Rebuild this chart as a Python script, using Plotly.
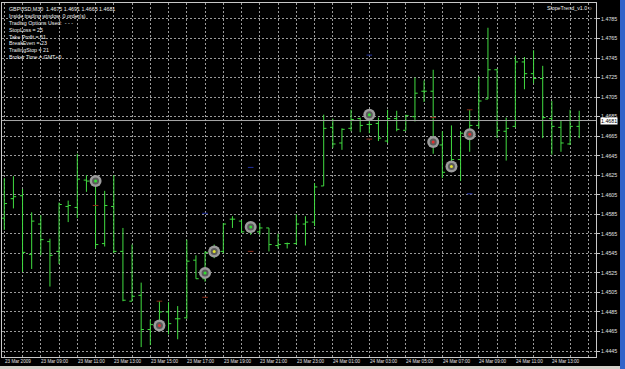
import plotly.graph_objects as go

# ---- data (GBPUSD M30, 23 Mar 2009 07:00 .. 24 Mar 14:30) ----
bar_index = list(range(64))
open_ = [1.4581, 1.4601, 1.4604, 1.4544, 1.4575, 1.4557, 1.4547, 1.4593, 1.4592, 1.4620,
         1.4617, 1.4555, 1.4593, 1.4547, 1.4496, 1.4502, 1.4467, 1.4472, 1.4485, 1.4478,
         1.4479, 1.4538, 1.4519, 1.4546, 1.4547, 1.4580, 1.4578, 1.4567, 1.4567, 1.4571,
         1.4553, 1.4555, 1.4555, 1.4575, 1.4577, 1.4614, 1.4674, 1.4658, 1.4673, 1.4683,
         1.4677, 1.4678, 1.4660, 1.4683, 1.4671, 1.4685, 1.4711, 1.4711, 1.4656, 1.4629,
         1.4641, 1.4668, 1.4676, 1.4703, 1.4733, 1.4670, 1.4675, 1.4741, 1.4729, 1.4724,
         1.4683, 1.4674, 1.4657, 1.4675]
high = [1.4622, 1.4624, 1.4611, 1.4587, 1.4584, 1.4560, 1.4597, 1.4599, 1.4647, 1.4625,
        1.4619, 1.4609, 1.4625, 1.4571, 1.4554, 1.4515, 1.4477, 1.4496, 1.4495, 1.4491,
        1.4559, 1.4543, 1.4547, 1.4554, 1.4576, 1.4583, 1.4579, 1.4572, 1.4576, 1.4571,
        1.4565, 1.4556, 1.4585, 1.4583, 1.4617, 1.4687, 1.4683, 1.4673, 1.4692, 1.4684,
        1.4691, 1.4684, 1.4692, 1.4691, 1.4687, 1.4725, 1.4722, 1.4733, 1.4670, 1.4676,
        1.4670, 1.4692, 1.4726, 1.4776, 1.4734, 1.4684, 1.4747, 1.4746, 1.4753, 1.4737,
        1.4701, 1.4681, 1.4692, 1.4691]
low = [1.4569, 1.4591, 1.4526, 1.4529, 1.4543, 1.4511, 1.4534, 1.4577, 1.4581, 1.4608,
       1.4550, 1.4552, 1.4545, 1.4496, 1.4496, 1.4449, 1.4451, 1.4467, 1.4462, 1.4457,
       1.4478, 1.4519, 1.4516, 1.4540, 1.4545, 1.4571, 1.4566, 1.4564, 1.4564, 1.4547,
       1.4550, 1.4550, 1.4554, 1.4553, 1.4573, 1.4614, 1.4653, 1.4651, 1.4670, 1.4669,
       1.4668, 1.4660, 1.4658, 1.4670, 1.4671, 1.4680, 1.4700, 1.4647, 1.4622, 1.4629,
       1.4619, 1.4649, 1.4673, 1.4703, 1.4663, 1.4640, 1.4674, 1.4713, 1.4719, 1.4663,
       1.4646, 1.4649, 1.4656, 1.4663]
close = [1.4596, 1.4603, 1.4546, 1.4578, 1.4559, 1.4543, 1.4595, 1.4594, 1.4621, 1.4619,
         1.4554, 1.4594, 1.4547, 1.4497, 1.4501, 1.4467, 1.4472, 1.4485, 1.4473, 1.4478,
         1.4537, 1.4519, 1.4546, 1.4547, 1.4575, 1.4580, 1.4567, 1.4569, 1.4571, 1.4554,
         1.4554, 1.4555, 1.4575, 1.4577, 1.4613, 1.4673, 1.4657, 1.4672, 1.4682, 1.4676,
         1.4677, 1.4663, 1.4683, 1.4672, 1.4686, 1.4709, 1.4711, 1.4658, 1.4628, 1.4641,
         1.4668, 1.4676, 1.4701, 1.4733, 1.4671, 1.4673, 1.4741, 1.4729, 1.4724, 1.4684,
         1.4675, 1.4658, 1.4675, 1.4681]

signal_index = [10, 17, 22, 23, 27, 40, 47, 49, 51]
signal_price = [1.4619, 1.4471, 1.4525, 1.4547, 1.4572, 1.4687, 1.4659, 1.4634, 1.4667]
signal_dot = ["#30e030", "#e03030", "#30e030", "#e0e030", "#30e030",
              "#30e030", "#e03030", "#e0e030", "#e03030"]

stop_index = [10, 17, 22, 27, 40, 47, 51]
stop_price = [1.4594, 1.4496, 1.4500, 1.4547, 1.4662, 1.4684, 1.4692]
target_index = [22, 27, 40, 51]
target_price = [1.4586, 1.4633, 1.4748, 1.4606]

time_tick_index = [0, 4, 8, 12, 16, 20, 24, 28, 32, 36, 40, 44, 48, 52, 56, 60]
time_tick_text = ["23 Mar 2009", "23 Mar 09:00", "23 Mar 11:00", "23 Mar 13:00",
                  "23 Mar 15:00", "23 Mar 17:00", "23 Mar 19:00", "23 Mar 21:00",
                  "23 Mar 23:00", "24 Mar 01:00", "24 Mar 03:00", "24 Mar 05:00",
                  "24 Mar 07:00", "24 Mar 09:00", "24 Mar 11:00", "24 Mar 13:00"]

last_price = 1.4681
header_lines = ["GBPUSD,M30  1.4675 1.4691 1.4663 1.4681",
                "Inside trading window. 0 order(s)",
                "Trading Options Used:  - - -",
                "StopLoss = 25",
                "Take Profit = 61",
                "BreakEven = 23",
                "TrailingStop = 21",
                "Broker Time = GMT+0"]
expert_label = "SlopeTrend_v1.0\u263a"

# ---- figure ----
GREEN = "#40dc40"
GRID = "#9a9a9a"
FONT = "Liberation Sans, Arial, sans-serif"
W, H = 625, 369
L, R, T, B = 2, 29, 3, 12
PW, PH = W - L - R, H - T - B


def px_x(px):
    return (px - L) / PW


def px_y(py):
    return 1 - (py - T) / PH


fig = go.Figure()
fig.add_trace(go.Ohlc(
    x=bar_index, open=open_, high=high, low=low, close=close,
    increasing=dict(line=dict(color=GREEN, width=1)),
    decreasing=dict(line=dict(color=GREEN, width=1)),
    tickwidth=0.3, hoverinfo="skip", showlegend=False))

# current price line
fig.add_shape(type="line", xref="paper", x0=0, x1=1, yref="y",
              y0=last_price, y1=last_price, line=dict(color="#a8a8a8", width=1))

# stop / target marks
fig.add_trace(go.Scatter(x=stop_index, y=stop_price, mode="markers",
                         marker=dict(symbol="line-ew", size=4,
                                     line=dict(color="#8a2a18", width=1)),
                         hoverinfo="skip", showlegend=False))
fig.add_trace(go.Scatter(x=target_index, y=target_price, mode="markers",
                         marker=dict(symbol="line-ew", size=4,
                                     line=dict(color="#2030a0", width=1)),
                         hoverinfo="skip", showlegend=False))

# signal circles
fig.add_trace(go.Scatter(x=signal_index, y=signal_price, mode="markers",
                         marker=dict(size=12, color="#9c9c9c", line=dict(width=0)),
                         hoverinfo="skip", showlegend=False))
fig.add_trace(go.Scatter(x=signal_index, y=signal_price, mode="markers",
                         marker=dict(size=7, color="#5a5a5a", line=dict(width=0)),
                         hoverinfo="skip", showlegend=False))
fig.add_trace(go.Scatter(x=signal_index, y=signal_price, mode="markers",
                         marker=dict(size=3, color=signal_dot, line=dict(width=0)),
                         hoverinfo="skip", showlegend=False))

fig.update_layout(
    width=W, height=H,
    margin=dict(l=L, r=R, t=T, b=B, pad=0),
    paper_bgcolor="black", plot_bgcolor="black",
    font=dict(family=FONT, color="#e8e8e8", size=5.3),
    showlegend=False,
    xaxis=dict(range=[-0.252, 64.84], tickmode="linear", tick0=0, dtick=2,
               showticklabels=False, ticks="", showgrid=True,
               gridcolor=GRID, griddash="2px,2px", gridwidth=1,
               zeroline=False, showline=True, mirror=True,
               linecolor="#c8c8c8", linewidth=1,
               rangeslider=dict(visible=False), fixedrange=True),
    yaxis=dict(range=[1.4438856, 1.4801352], side="right", tickmode="linear",
               tick0=1.4445, dtick=0.002, tickformat=".4f",
               ticks="outside", ticklen=3, tickcolor="#c8c8c8",
               tickfont=dict(size=5.3, color="#e0e0e0", family=FONT),
               showgrid=True, gridcolor=GRID, griddash="2px,2px", gridwidth=1,
               zeroline=False, showline=True, mirror=True,
               linecolor="#c8c8c8", linewidth=1, fixedrange=True),
)

# time axis labels (left aligned at bar, like the terminal)
for i, t in zip(time_tick_index, time_tick_text):
    fig.add_annotation(x=i, xref="x", y=px_y(361.5), yref="paper", text=t,
                       showarrow=False, xanchor="left", yanchor="middle",
                       xshift=-1.5, font=dict(size=4.6, color="#e0e0e0"))

# header text
fig.add_annotation(x=px_x(7), xref="paper", y=px_y(4), yref="paper",
                   text="<br>".join(header_lines), align="left",
                   showarrow=False, xanchor="left", yanchor="top",
                   font=dict(size=5.3, color="#f0f0f0"))
fig.add_annotation(x=px_x(595), xref="paper", y=px_y(8), yref="paper",
                   text=expert_label, showarrow=False, xanchor="right",
                   yanchor="middle", font=dict(size=5.3, color="#f0f0f0"))

# current price box
fig.add_annotation(x=px_x(600), xref="paper", y=last_price, yref="y",
                   text="%.4f" % last_price, showarrow=False, xanchor="left",
                   yanchor="middle", bgcolor="white", borderpad=0,
                   font=dict(size=5.3, color="black"))

# window decoration: right scrollbar strip and bottom tab strip
fig.add_shape(type="rect", xref="paper", yref="paper", x0=px_x(620), x1=px_x(626),
              y0=px_y(370), y1=px_y(-1), fillcolor="#3163c9", line=dict(width=0),
              layer="above")
fig.add_shape(type="rect", xref="paper", yref="paper", x0=px_x(-1), x1=px_x(620),
              y0=px_y(370), y1=px_y(366), fillcolor="#d4d0c8", line=dict(width=0),
              layer="above")

fig.write_html("out.html")
